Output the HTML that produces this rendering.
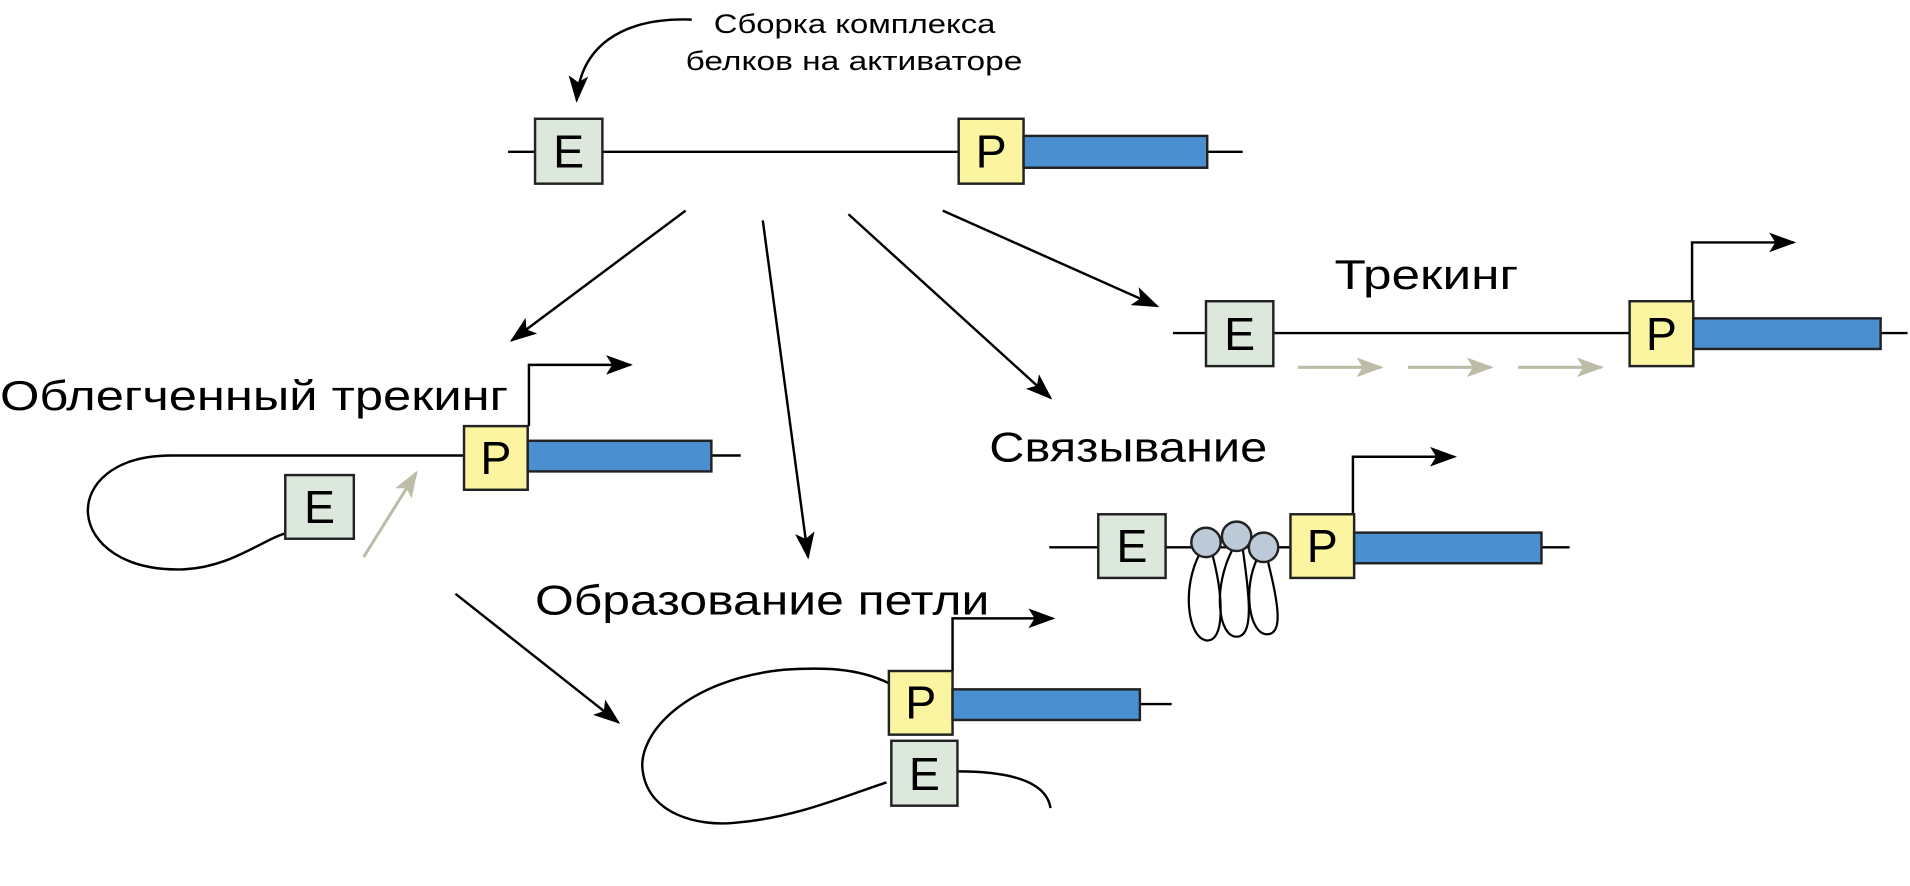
<!DOCTYPE html>
<html><head><meta charset="utf-8"><style>html,body{margin:0;padding:0;background:#fff}svg{display:block}</style></head>
<body>
<svg width="1910" height="886" viewBox="0 0 1560 723.6" preserveAspectRatio="none" xmlns="http://www.w3.org/2000/svg" font-family="Liberation Sans, DejaVu Sans, sans-serif">
<defs>
<marker id="ab" markerWidth="22" markerHeight="16" refX="20" refY="8" orient="auto" markerUnits="userSpaceOnUse" viewBox="0 0 22 16">
<path d="M0,0 L22,8 L0,16 L5,8 z" fill="#000"/></marker>
<marker id="g" markerWidth="22" markerHeight="16" refX="20" refY="8" orient="auto" markerUnits="userSpaceOnUse" viewBox="0 0 22 16">
<path d="M0,0 L22,8 L0,16 L5,8 z" fill="#bdbca8"/></marker>
</defs>
<g stroke="#000" stroke-width="2" fill="none">
<line x1="415" y1="124" x2="1015" y2="124"/>
<path d="M565,16 C505,14 474,40 471,82" marker-end="url(#ab)"/>
<line x1="560" y1="172" x2="418" y2="278" marker-end="url(#ab)"/>
<line x1="623" y1="180" x2="660" y2="455" marker-end="url(#ab)"/>
<line x1="693" y1="175" x2="858" y2="325" marker-end="url(#ab)"/>
<line x1="770" y1="172" x2="945" y2="250" marker-end="url(#ab)"/>
<line x1="372" y1="485" x2="505" y2="590" marker-end="url(#ab)"/>
<line x1="958" y1="272" x2="1558" y2="272"/>
<path d="M1382,246 V198 H1465" marker-end="url(#ab)"/>
<path d="M380,372 H140 C45,372 50,468 150,465 C190,463 215,440 235,435"/>
<line x1="431" y1="372" x2="605" y2="372"/>
<path d="M432,348 V298 H515" marker-end="url(#ab)"/>
<path d="M726,558 C700,545 670,545 640,547 C560,555 520,600 525,630 C530,665 570,675 600,672 C650,668 690,650 724,639"/>
<path d="M782,630 C830,630 855,640 858,660"/>
<line x1="931" y1="575" x2="957" y2="575"/>
<path d="M778,548 V505 H860" marker-end="url(#ab)"/>
<line x1="857" y1="447" x2="1282" y2="447"/>
<path d="M1105,420 V373 H1188" marker-end="url(#ab)"/>
<path d="M980,452 C965,480 970,520 985,523 C1000,525 1000,490 990,452" stroke-width="1.8"/>
<path d="M1007,448 C990,480 995,520 1010,520 C1025,520 1020,485 1015,448" stroke-width="1.8"/>
<path d="M1027,456 C1015,480 1020,518 1035,518 C1050,518 1042,485 1035,456" stroke-width="1.8"/>
</g>
<g stroke="#bdbca8" stroke-width="2.5" fill="none">
<line x1="1060" y1="300" x2="1128" y2="300" marker-end="url(#g)"/>
<line x1="1150" y1="300" x2="1218" y2="300" marker-end="url(#g)"/>
<line x1="1240" y1="300" x2="1308" y2="300" marker-end="url(#g)"/>
<line x1="297" y1="455" x2="340" y2="386" marker-end="url(#g)"/>
</g>
<g stroke="#222" stroke-width="2">
<circle cx="985" cy="443" r="12" fill="#bccad8"/>
<circle cx="1010" cy="438" r="12" fill="#bccad8"/>
<circle cx="1032" cy="447" r="12" fill="#bccad8"/>
</g>
<g stroke="#222" stroke-width="2">
<rect x="437" y="97" width="55" height="53" fill="#dde8dd"/>
<rect x="985" y="246" width="55" height="53" fill="#dde8dd"/>
<rect x="233" y="388" width="56" height="52" fill="#dde8dd"/>
<rect x="728" y="605" width="54" height="53" fill="#dde8dd"/>
<rect x="897" y="420" width="55" height="52" fill="#dde8dd"/>
<rect x="783" y="97" width="53" height="53" fill="#fbf4a0"/>
<rect x="1331" y="246" width="52" height="53" fill="#fbf4a0"/>
<rect x="379" y="348" width="52" height="52" fill="#fbf4a0"/>
<rect x="726" y="548" width="52" height="52" fill="#fbf4a0"/>
<rect x="1054" y="420" width="52" height="52" fill="#fbf4a0"/>
<rect x="836" y="111" width="150" height="26" fill="#4a90d0"/>
<rect x="1383" y="260" width="153" height="25" fill="#4a90d0"/>
<rect x="431" y="360" width="150" height="25" fill="#4a90d0"/>
<rect x="778" y="563" width="153" height="25" fill="#4a90d0"/>
<rect x="1106" y="435" width="153" height="25" fill="#4a90d0"/>
</g>
<g font-size="38" text-anchor="middle" fill="#000">
<text x="464.5" y="137">E</text><text x="809.5" y="137">P</text>
<text x="1012.5" y="286">E</text><text x="1357" y="286">P</text>
<text x="261" y="427">E</text><text x="405" y="387">P</text>
<text x="755" y="645">E</text><text x="752" y="587">P</text>
<text x="924.5" y="459">E</text><text x="1080" y="459">P</text>
</g>
<g fill="#000" lengthAdjust="spacingAndGlyphs">
<text x="583" y="27" font-size="22" textLength="230" lengthAdjust="spacingAndGlyphs">Сборка комплекса</text>
<text x="560" y="57" font-size="22" textLength="275" lengthAdjust="spacingAndGlyphs">белков на активаторе</text>
<text x="1090" y="236" font-size="34" textLength="150" lengthAdjust="spacingAndGlyphs">Трекинг</text>
<text x="0" y="335" font-size="34" textLength="415" lengthAdjust="spacingAndGlyphs">Облегченный трекинг</text>
<text x="437" y="502" font-size="34" textLength="371" lengthAdjust="spacingAndGlyphs">Образование петли</text>
<text x="808" y="377" font-size="34" textLength="227" lengthAdjust="spacingAndGlyphs">Связывание</text>
</g>
</svg>
</body></html>
